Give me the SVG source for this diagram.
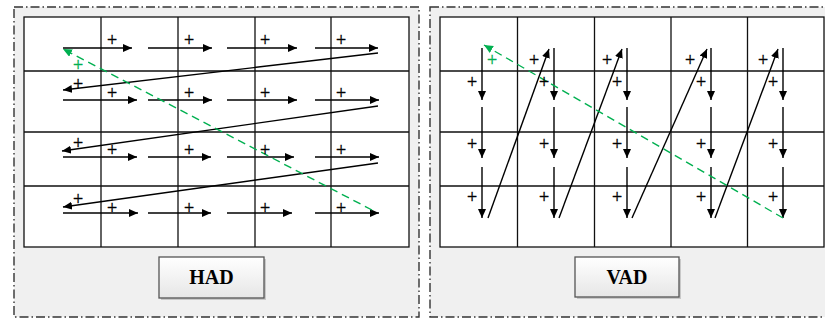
<svg xmlns="http://www.w3.org/2000/svg" width="825" height="320" viewBox="0 0 825 320">
<defs>
<style>
.panel{fill:#f0f0f0;stroke:#333;stroke-width:1.4;stroke-dasharray:9 3 1.5 3}
.grid{fill:#fff;stroke:#111;stroke-width:1.3}
.gl{stroke:#111;stroke-width:1.3;fill:none}
.ar{stroke:#000;stroke-width:1.4;fill:none;marker-end:url(#ah)}
.gr{stroke:#00b050;stroke-width:1.4;fill:none;stroke-dasharray:8 5;marker-end:url(#gh)}
.signs{opacity:0.99}
.p{font-family:"Liberation Serif","Times New Roman",serif;font-size:18px;fill:#000;stroke:#000;stroke-width:0.35;text-anchor:middle}
.pg{font-family:"Liberation Serif","Times New Roman",serif;font-size:18px;fill:#00b050;stroke:#00b050;stroke-width:0.35;text-anchor:middle}
.box{fill:url(#bg);stroke:#555;stroke-width:1.3}
.sh{fill:#c8c8c8}
.lbl{font-family:"Liberation Serif","Times New Roman",serif;font-size:20px;font-weight:bold;fill:#000;text-anchor:middle}
</style>
<marker id="ah" markerUnits="userSpaceOnUse" markerWidth="10" markerHeight="9" refX="9" refY="4" orient="auto">
<path d="M0,0 L9,4 L0,8 z" fill="#000"/>
</marker>
<marker id="gh" markerUnits="userSpaceOnUse" markerWidth="10" markerHeight="9" refX="9" refY="4" orient="auto">
<path d="M0,0 L9,4 L0,8 z" fill="#00b050"/>
</marker>
<linearGradient id="bg" x1="0" y1="0" x2="0" y2="1">
<stop offset="0" stop-color="#ffffff"/>
<stop offset="1" stop-color="#e6e6e6"/>
</linearGradient>
</defs>

<g id="had-panel">
<rect class="panel" x="14" y="7" width="405" height="310"/>
<rect class="grid" x="24" y="17" width="385" height="230"/>
<path class="gl" d="M101,17V247M178,17V247M255,17V247M331,17V247M24,71H409M24,132H409M24,186H409"/>
</g>

<g id="vad-panel">
<rect class="panel" x="430" y="7" width="410" height="310"/>
<rect class="grid" x="440" y="17" width="384" height="230"/>
<path class="gl" d="M517.5,17V247M594.5,17V247M671,17V247M747.5,17V247M440,71H824M440,132H824M440,186H824"/>
</g>

<g id="connectors">
<path class="ar" d="M63,48H132"/><path class="ar" d="M148,48H212"/><path class="ar" d="M227,48H297"/><path class="ar" d="M315,48H378"/>
<path class="ar" d="M63,100H137"/><path class="ar" d="M148,100H212"/><path class="ar" d="M227,100H297"/><path class="ar" d="M315,100H379"/>
<path class="ar" d="M63,157H137"/><path class="ar" d="M148,157H211"/><path class="ar" d="M227,157H294"/><path class="ar" d="M315,157H379"/>
<path class="ar" d="M63,213H138"/><path class="ar" d="M148,213H211"/><path class="ar" d="M227,213H292"/><path class="ar" d="M315,213H379"/>
<path class="ar" d="M378,53L63,90"/>
<path class="ar" d="M378,106L62,151"/>
<path class="ar" d="M378,163L63,207"/>
<path class="gr" d="M372,210L63,49"/>
<path class="ar" d="M482,48V100"/><path class="ar" d="M482,107V158"/><path class="ar" d="M482,167V218"/>
<path class="ar" d="M554,48V100"/><path class="ar" d="M554,107V158"/><path class="ar" d="M554,167V218"/>
<path class="ar" d="M627,48V100"/><path class="ar" d="M627,107V158"/><path class="ar" d="M627,167V218"/>
<path class="ar" d="M711,48V100"/><path class="ar" d="M711,107V158"/><path class="ar" d="M711,167V218"/>
<path class="ar" d="M783,48V100"/><path class="ar" d="M783,107V158"/><path class="ar" d="M783,167V218"/>
<path class="ar" d="M488,218L549,49"/>
<path class="ar" d="M559,218L622,49"/>
<path class="ar" d="M632,218L707,49"/>
<path class="ar" d="M715,218L778,49"/>
<path class="gr" d="M783,218L484,45"/>
</g>

<g id="had-signs" class="signs">
<text class="p" x="112" y="45.5">+</text><text class="p" x="189" y="45.5">+</text><text class="p" x="265" y="45.5">+</text><text class="p" x="341" y="45.5">+</text>
<text class="p" x="112" y="98.5">+</text><text class="p" x="189" y="98.5">+</text><text class="p" x="265" y="98.5">+</text><text class="p" x="341" y="98.5">+</text>
<text class="p" x="112" y="155.5">+</text><text class="p" x="189" y="155.5">+</text><text class="p" x="265" y="155.5">+</text><text class="p" x="341" y="155.5">+</text>
<text class="p" x="112" y="213.5">+</text><text class="p" x="189" y="213.5">+</text><text class="p" x="265" y="213.5">+</text><text class="p" x="341" y="213.5">+</text>
<text class="p" x="78" y="90">+</text><text class="p" x="78" y="148.5">+</text><text class="p" x="78" y="204.5">+</text>
<text class="pg" x="78" y="71">+</text>
</g>

<g id="vad-signs" class="signs">
<text class="p" x="472" y="87.5">+</text><text class="p" x="544" y="87.5">+</text><text class="p" x="617" y="87.5">+</text><text class="p" x="701" y="87.5">+</text><text class="p" x="773" y="87.5">+</text>
<text class="p" x="534" y="66">+</text><text class="p" x="607" y="66">+</text><text class="p" x="690" y="66">+</text><text class="p" x="763" y="66">+</text>
<text class="p" x="472" y="149.5">+</text><text class="p" x="544" y="149.5">+</text><text class="p" x="617" y="149.5">+</text><text class="p" x="701" y="149.5">+</text><text class="p" x="773" y="149.5">+</text>
<text class="p" x="472" y="202.5">+</text><text class="p" x="544" y="202.5">+</text><text class="p" x="617" y="202.5">+</text><text class="p" x="701" y="202.5">+</text><text class="p" x="773" y="202.5">+</text>
<text class="pg" x="492" y="66">+</text>
</g>

<g id="had-label">
<rect class="sh" x="161" y="259" width="105" height="41"/>
<rect class="box" x="159" y="257" width="105" height="41"/>
<text class="lbl" x="211.5" y="284">HAD</text>
</g>

<g id="vad-label">
<rect class="sh" x="577" y="259" width="104" height="40"/>
<rect class="box" x="575" y="257" width="104" height="40"/>
<text class="lbl" x="627" y="284">VAD</text>
</g>
</svg>
